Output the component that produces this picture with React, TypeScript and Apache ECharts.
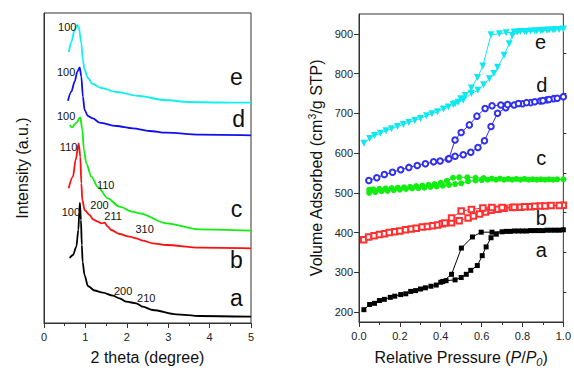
import React, { useEffect, useRef } from "react";
import * as echarts from "echarts";

const FONT = "'Liberation Sans', Arial, Helvetica, sans-serif";

// ---------- Left panel: XRD patterns (2 theta in degrees, intensity a.u.) ----------
const xrdA: [number, number][] = [
  [0.62, 65], [0.7, 68], [0.78, 76], [0.83, 93], [0.853, 111], [0.868, 120], [0.892, 103],
  [0.914, 78], [0.933, 61], [0.981, 47.5], [1.061, 37], [1.222, 32.5], [1.422, 30.3],
  [1.663, 27.3], [1.825, 24.7], [1.987, 21.3], [2.228, 19.7], [2.387, 16.3], [2.628, 13],
  [3.192, 8.7], [3.754, 7], [5.0, 6.3],
];
const xrdB: [number, number][] = [
  [0.595, 134.7], [0.699, 146.3], [0.764, 163], [0.837, 179.7], [0.877, 166.3], [0.902, 139.7],
  [0.926, 123], [0.981, 113], [1.102, 108], [1.181, 103.7], [1.302, 101.3], [1.384, 99.7],
  [1.463, 100.3], [1.543, 96.3], [1.625, 93], [1.825, 89], [2.066, 86.3], [2.228, 84.7],
  [2.387, 82.3], [2.628, 79.7], [2.951, 78], [3.754, 75.3], [5.0, 74.7],
];
const xrdC: [number, number][] = [
  [0.62, 198], [0.675, 195.7], [0.781, 200.3], [0.877, 205.7], [0.926, 193], [0.964, 173],
  [1.022, 159.7], [1.143, 146.3], [1.302, 136], [1.54, 124.7], [1.825, 116.3], [2.14, 111.3],
  [2.307, 109.7], [2.951, 99.7], [3.754, 93.7], [5.0, 92.3],
];
const xrdD: [number, number][] = [
  [0.579, 222.3], [0.66, 231.3], [0.74, 241.3], [0.805, 251.3], [0.861, 255.7], [0.902, 246.3],
  [0.94, 226.3], [0.981, 213], [1.061, 207], [1.181, 204.7], [1.343, 200.3], [1.745, 197],
  [2.146, 194.7], [2.548, 192], [2.951, 190.3], [3.754, 188.3], [5.0, 187.7],
];
const xrdE: [number, number][] = [
  [0.6, 271], [0.66, 281], [0.74, 293], [0.8, 298], [0.84, 296], [0.9, 280], [0.94, 263],
  [0.98, 253], [1.06, 245], [1.18, 239], [1.38, 235], [1.75, 231], [2.3, 227], [2.9, 223],
  [3.5, 221], [4.2, 220.5], [5.0, 220.3],
];
const xrdCurves = [
  { name: "a", color: "#000000", data: xrdA },
  { name: "b", color: "#FF1010", data: xrdB },
  { name: "c", color: "#10EE10", data: xrdC },
  { name: "d", color: "#1010EE", data: xrdD },
  { name: "e", color: "#10F0F0", data: xrdE },
];
// Miller-index annotations [2theta, intensity, text]
const xrdPeakLabels: [number, number, string][] = [
  [0.56, 296, "100"], [0.535, 251, "100"], [0.535, 207, "100"], [0.595, 176, "110"],
  [1.49, 138, "110"], [1.34, 118, "200"], [1.67, 107, "211"], [2.43, 94, "310"],
  [0.65, 111.5, "100"], [1.91, 32, "200"], [2.47, 25.5, "210"],
];
const xrdSampleLabels: [number, number, string][] = [
  [4.65, 246, "e"], [4.7, 204, "d"], [4.65, 114, "c"], [4.65, 63, "b"], [4.65, 25, "a"],
];
const xrdTicks = [0, 1, 2, 3, 4, 5];

// ---------- Right panel: N2 isotherms (P/P0, cm3/g STP) ----------
const isoAAds: [number, number][] = [
  [0.024, 206], [0.052, 219], [0.076, 222], [0.1, 229], [0.124, 232], [0.153, 237], [0.175, 240],
  [0.204, 244], [0.229, 246], [0.253, 252], [0.277, 254], [0.301, 258], [0.325, 261], [0.352, 265],
  [0.378, 268], [0.4, 275], [0.426, 279], [0.47, 281], [0.5, 287], [0.525, 295], [0.547, 305],
  [0.579, 317], [0.603, 342], [0.622, 364], [0.646, 387], [0.672, 396], [0.7, 402], [0.74, 403],
  [0.78, 404], [0.82, 404], [0.86, 405], [0.9, 405], [0.94, 406], [0.98, 406],
];
const isoADes: [number, number][] = [
  [1.0, 407], [0.96, 406], [0.92, 406], [0.88, 405], [0.84, 405], [0.8, 404], [0.76, 404],
  [0.72, 403], [0.651, 401], [0.598, 401], [0.555, 389], [0.501, 361], [0.453, 295], [0.41, 277],
];
const isoBAds: [number, number][] = [
  [0.023, 382], [0.047, 389], [0.074, 392], [0.1, 395], [0.125, 397], [0.148, 400], [0.175, 402],
  [0.2, 404], [0.228, 407], [0.255, 409], [0.28, 411], [0.309, 414], [0.335, 415], [0.36, 417],
  [0.385, 419], [0.408, 422], [0.453, 425], [0.49, 430], [0.534, 437], [0.56, 442], [0.59, 447],
  [0.62, 452], [0.646, 456], [0.68, 459], [0.71, 461], [0.75, 463], [0.79, 464], [0.84, 465],
  [0.887, 467], [0.94, 468], [1.0, 469],
];
const isoBDes: [number, number][] = [
  [0.98, 468], [0.91, 467], [0.86, 466], [0.81, 465], [0.76, 464], [0.7, 463], [0.65, 463],
  [0.606, 462], [0.55, 458], [0.5, 454], [0.453, 437], [0.42, 424],
];
const isoCAds: [number, number][] = [
  [0.05, 500], [0.08, 502], [0.11, 504], [0.14, 505], [0.17, 507], [0.2, 508], [0.23, 510],
  [0.26, 511], [0.29, 512], [0.32, 513], [0.35, 515], [0.38, 516], [0.41, 518], [0.44, 520],
  [0.47, 522], [0.5, 524], [0.534, 529], [0.57, 531], [0.6, 532], [0.63, 533], [0.67, 533],
  [0.71, 533], [0.75, 533], [0.79, 533], [0.83, 533], [0.87, 533], [0.91, 533], [0.95, 533],
  [1.0, 534],
];
const isoCDes: [number, number][] = [
  [0.97, 534], [0.93, 534], [0.89, 534], [0.85, 534], [0.81, 535], [0.77, 535], [0.73, 535],
  [0.69, 536], [0.65, 536], [0.61, 537], [0.57, 538], [0.53, 539], [0.49, 539], [0.46, 538],
  [0.43, 530], [0.4, 525], [0.37, 522], [0.34, 520], [0.31, 518], [0.28, 517], [0.25, 515],
  [0.22, 514], [0.19, 513], [0.16, 512], [0.13, 511], [0.1, 510], [0.07, 509], [0.05, 508],
];
const isoDAds: [number, number][] = [
  [0.048, 531], [0.087, 538], [0.124, 546], [0.164, 552], [0.204, 558], [0.244, 564], [0.285, 569],
  [0.325, 573], [0.365, 578], [0.397, 580], [0.437, 585], [0.47, 592], [0.51, 596], [0.547, 602],
  [0.582, 614], [0.614, 631], [0.646, 667], [0.678, 700], [0.718, 714], [0.759, 721], [0.8, 724],
  [0.84, 727], [0.887, 731], [0.92, 734], [0.952, 737], [1.0, 742],
];
const isoDDes: [number, number][] = [
  [0.97, 738], [0.93, 735], [0.9, 732], [0.86, 729], [0.82, 727], [0.78, 725], [0.727, 722],
  [0.694, 721], [0.651, 719], [0.617, 712], [0.577, 693], [0.54, 671], [0.5, 652], [0.47, 633],
  [0.44, 586],
];
const isoEAds: [number, number][] = [
  [0.024, 625], [0.052, 637], [0.076, 644], [0.105, 650], [0.132, 656], [0.159, 661], [0.188, 667],
  [0.217, 672], [0.244, 677], [0.273, 682], [0.301, 687], [0.33, 694], [0.357, 699], [0.384, 704],
  [0.413, 711], [0.437, 716], [0.461, 722], [0.485, 728], [0.51, 733], [0.55, 750], [0.582, 758],
  [0.61, 772], [0.638, 787], [0.66, 800], [0.678, 816], [0.71, 846], [0.735, 875], [0.75, 896],
  [0.775, 904], [0.81, 906], [0.84, 907], [0.87, 908], [0.9, 909], [0.93, 910], [0.96, 911],
  [1.0, 912],
];
const isoEDes: [number, number][] = [
  [0.98, 911], [0.95, 910], [0.92, 909], [0.89, 908], [0.86, 907], [0.82, 906], [0.79, 906],
  [0.759, 905], [0.72, 903], [0.687, 900], [0.646, 898], [0.606, 819], [0.58, 790], [0.55, 764],
  [0.52, 745], [0.498, 737], [0.47, 724],
];
const isoSamples = [
  { name: "a", color: "#000000", symbol: "rect", size: 5, rotate: 0, border: 0, ads: isoAAds, des: isoADes },
  { name: "b", color: "#FF3030", symbol: "emptyRect", size: 5.5, rotate: 0, border: 0.8, ads: isoBAds, des: isoBDes },
  { name: "c", color: "#10EE10", symbol: "circle", size: 6, rotate: 0, border: 0, ads: isoCAds, des: isoCDes },
  { name: "d", color: "#3030EE", symbol: "emptyCircle", size: 5.5, rotate: 0, border: 0.8, ads: isoDAds, des: isoDDes },
  { name: "e", color: "#10E8F0", symbol: "triangle", size: 7, rotate: 180, border: 0, ads: isoEAds, des: isoEDes },
];
const isoSampleLabels: [number, number, string][] = [
  [0.888, 880, "e"], [0.895, 771, "d"], [0.892, 587, "c"], [0.892, 437, "b"], [0.892, 355, "a"],
];
const isoYTicks = [200, 300, 400, 500, 600, 700, 800, 900];
const isoYMinorTicks = [250, 350, 450, 550, 650, 750, 850];

const AXIS_COLOR = "#333";
const TEXT_COLOR = "#111";

function labelSeries(
  items: [number, number, string][],
  axisIndex: number,
  fontSize: number
) {
  return {
    type: "scatter",
    xAxisIndex: axisIndex,
    yAxisIndex: axisIndex,
    symbolSize: 0,
    silent: true,
    z: 10,
    itemStyle: { color: TEXT_COLOR, opacity: 1 },
    data: items.map(([x, y, t]) => ({ name: t, value: [x, y] })),
    label: {
      show: true,
      position: [0, 0],
      formatter: "{b}",
      align: "center",
      verticalAlign: "middle",
      fontSize,
      color: TEXT_COLOR,
      opacity: 1,
      textBorderWidth: 0,
      fontFamily: FONT,
    },
  };
}

export default function App() {
  const ref = useRef<HTMLDivElement>(null);

  useEffect(() => {
    if (!ref.current) return;
    const chart = echarts.init(ref.current, undefined, { renderer: "svg" });

    const axisCommon = {
      type: "value",
      splitLine: { show: false },
      axisLine: { show: true, lineStyle: { color: AXIS_COLOR, width: 1 } },
      axisTick: { show: true, length: 5, lineStyle: { color: AXIS_COLOR } },
      axisLabel: { fontSize: 11, color: "#222", fontFamily: FONT },
      nameLocation: "middle",
      nameTextStyle: { fontSize: 16, color: TEXT_COLOR, fontFamily: FONT },
    };

    const series: any[] = [];
    xrdCurves.forEach((c) => {
      series.push({
        type: "line",
        name: c.name,
        xAxisIndex: 0,
        yAxisIndex: 0,
        data: c.data,
        showSymbol: false,
        smooth: 0.3,
        smoothMonotone: "x",
        lineStyle: { color: c.color, width: 1.8 },
        itemStyle: { color: c.color },
      });
    });
    isoSamples.forEach((s) => {
      [s.ads, s.des].forEach((d) => {
        series.push({
          type: "line",
          name: s.name,
          xAxisIndex: 1,
          yAxisIndex: 1,
          data: d,
          showSymbol: true,
          showAllSymbol: true,
          symbol: s.symbol,
          symbolSize: s.size,
          symbolRotate: s.rotate,
          lineStyle: { color: s.color, width: 1 },
          itemStyle: { color: s.color, borderColor: s.color, borderWidth: s.border },
        });
      });
    });
    series.push(labelSeries(xrdPeakLabels, 0, 11));
    series.push(labelSeries(xrdSampleLabels, 0, 23));
    series.push(labelSeries(isoSampleLabels, 1, 20));

    chart.setOption({
      animation: false,
      backgroundColor: "#ffffff",
      grid: [
        { left: 44, top: 13, width: 207, height: 310, show: true, borderColor: AXIS_COLOR, borderWidth: 1 },
        { left: 359, top: 14, width: 208, height: 310, show: true, borderColor: AXIS_COLOR, borderWidth: 1 },
      ],
      xAxis: [
        {
          ...axisCommon,
          gridIndex: 0,
          min: xrdTicks[0],
          max: xrdTicks[xrdTicks.length - 1],
          interval: 1,
          minorTick: { show: true, splitNumber: 2, length: 3, lineStyle: { color: AXIS_COLOR } },
          axisLabel: { ...axisCommon.axisLabel, margin: 8 },
          name: "2 theta (degree)",
          nameGap: 26,
        },
        {
          ...axisCommon,
          gridIndex: 1,
          min: 0,
          max: 1,
          interval: 0.2,
          minorTick: { show: true, splitNumber: 2, length: 3, lineStyle: { color: AXIS_COLOR } },
          axisLabel: {
            ...axisCommon.axisLabel,
            margin: 8,
            formatter: (v: number) => v.toFixed(1),
          },
          name: "Relative Pressure ({i|P}/{i|P}{sub|0})",
          nameGap: 26,
          nameTextStyle: {
            fontSize: 16,
            color: TEXT_COLOR,
            fontFamily: FONT,
            rich: {
              i: { fontSize: 16, fontStyle: "italic", color: TEXT_COLOR, fontFamily: FONT },
              sub: {
                fontSize: 11,
                fontStyle: "italic",
                color: TEXT_COLOR,
                fontFamily: FONT,
                verticalAlign: "bottom",
                padding: [8, 0, 0, 0],
              },
            },
          },
        },
      ],
      yAxis: [
        {
          ...axisCommon,
          gridIndex: 0,
          min: 0,
          max: 310,
          axisTick: { show: false },
          axisLabel: { show: false },
          name: "Intensity (a.u.)",
          nameGap: 14,
        },
        {
          ...axisCommon,
          gridIndex: 1,
          min: 175,
          max: 950,
          axisTick: { show: true, length: 5, customValues: isoYTicks, lineStyle: { color: AXIS_COLOR } },
          axisLabel: { ...axisCommon.axisLabel, margin: 6, customValues: isoYTicks },
          name: "Volume Adsorbed (cm{sup|3}/g STP)",
          nameGap: 34,
          nameTextStyle: {
            fontSize: 16,
            color: TEXT_COLOR,
            fontFamily: FONT,
            rich: {
              sup: {
                fontSize: 10,
                color: TEXT_COLOR,
                fontFamily: FONT,
                verticalAlign: "top",
                padding: [0, 0, 8, 0],
              },
            },
          },
        },
        {
          type: "value",
          gridIndex: 1,
          min: 175,
          max: 950,
          splitLine: { show: false },
          axisLine: { show: false },
          axisTick: { show: true, length: 3, customValues: isoYMinorTicks, lineStyle: { color: AXIS_COLOR } },
          axisLabel: { show: false },
        },
      ],
      series,
    });

    return () => chart.dispose();
  }, []);

  return (
    <div
      ref={ref}
      style={{ position: "fixed", left: 0, top: 0, width: 574, height: 372, background: "#fff" }}
    />
  );
}
